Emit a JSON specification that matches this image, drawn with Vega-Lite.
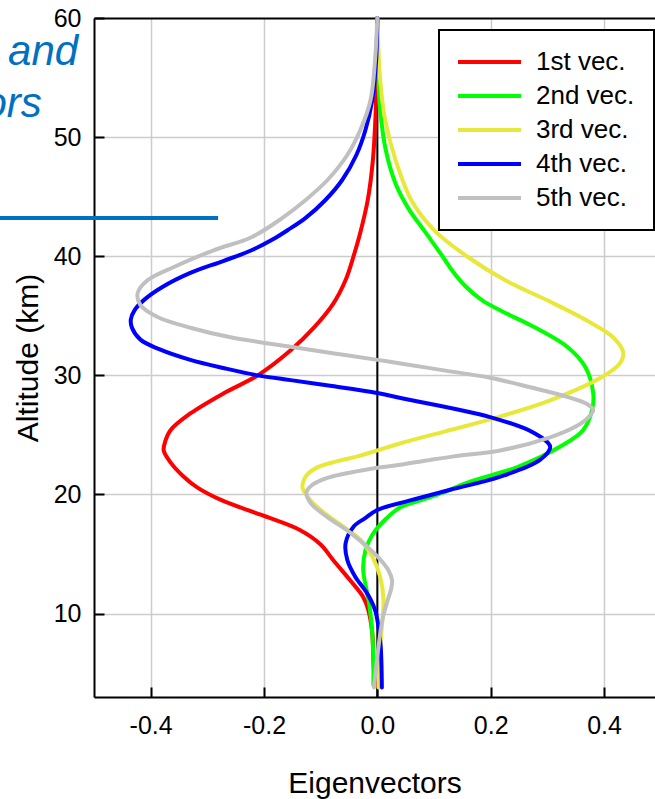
{
  "$schema": "https://vega.github.io/schema/vega-lite/v6.json",
  "width": 561,
  "height": 679,
  "autosize": {"type": "none"},
  "padding": {"left": 94, "top": 18, "right": 0, "bottom": 102},
  "background": "white",
  "config": {
    "view": {"stroke": null},
    "font": "Liberation Sans",
    "axis": {"labelFont": "Liberation Sans", "titleFont": "Liberation Sans", "labelColor": "black", "titleColor": "black", "titleFontWeight": "normal"},
    "legend": {"strokeWidth": 2}
  },
  "datasets": {
    "zero": [{"z": 0}],
    "ann": [
      {"label": "and", "x": -0.528, "alt": 56.05},
      {"label": "ors", "x": -0.592, "alt": 51.69}
    ],
    "hline": [{"x1": -0.666, "x2": -0.281, "alt": 43.21}],
    "vec": [
      {"s": "1st vec.", "alt": 4.0, "v": -0.004},
      {"s": "1st vec.", "alt": 6.1, "v": -0.007},
      {"s": "1st vec.", "alt": 8.4, "v": -0.009},
      {"s": "1st vec.", "alt": 10.3, "v": -0.016},
      {"s": "1st vec.", "alt": 11.4, "v": -0.025},
      {"s": "1st vec.", "alt": 12.8, "v": -0.048},
      {"s": "1st vec.", "alt": 14.5, "v": -0.078},
      {"s": "1st vec.", "alt": 15.8, "v": -0.1},
      {"s": "1st vec.", "alt": 17.0, "v": -0.136},
      {"s": "1st vec.", "alt": 18.3, "v": -0.206},
      {"s": "1st vec.", "alt": 19.5, "v": -0.274},
      {"s": "1st vec.", "alt": 20.6, "v": -0.318},
      {"s": "1st vec.", "alt": 21.6, "v": -0.344},
      {"s": "1st vec.", "alt": 22.7, "v": -0.365},
      {"s": "1st vec.", "alt": 23.7, "v": -0.377},
      {"s": "1st vec.", "alt": 24.5, "v": -0.374},
      {"s": "1st vec.", "alt": 25.4, "v": -0.365},
      {"s": "1st vec.", "alt": 26.8, "v": -0.33},
      {"s": "1st vec.", "alt": 28.5, "v": -0.271},
      {"s": "1st vec.", "alt": 30.0, "v": -0.211},
      {"s": "1st vec.", "alt": 32.1, "v": -0.153},
      {"s": "1st vec.", "alt": 34.0, "v": -0.112},
      {"s": "1st vec.", "alt": 36.0, "v": -0.078},
      {"s": "1st vec.", "alt": 38.0, "v": -0.056},
      {"s": "1st vec.", "alt": 40.0, "v": -0.042},
      {"s": "1st vec.", "alt": 42.0, "v": -0.03},
      {"s": "1st vec.", "alt": 44.7, "v": -0.017},
      {"s": "1st vec.", "alt": 48.0, "v": -0.008},
      {"s": "1st vec.", "alt": 52.0, "v": -0.003},
      {"s": "1st vec.", "alt": 56.0, "v": -0.001},
      {"s": "1st vec.", "alt": 60.0, "v": 0},

      {"s": "2nd vec.", "alt": 4.0, "v": -0.007},
      {"s": "2nd vec.", "alt": 6.0, "v": -0.007},
      {"s": "2nd vec.", "alt": 8.4, "v": -0.009},
      {"s": "2nd vec.", "alt": 10.7, "v": -0.014},
      {"s": "2nd vec.", "alt": 12.0, "v": -0.019},
      {"s": "2nd vec.", "alt": 13.7, "v": -0.025},
      {"s": "2nd vec.", "alt": 15.3, "v": -0.021},
      {"s": "2nd vec.", "alt": 16.6, "v": -0.009},
      {"s": "2nd vec.", "alt": 17.9, "v": 0.014},
      {"s": "2nd vec.", "alt": 18.9, "v": 0.04},
      {"s": "2nd vec.", "alt": 19.5, "v": 0.076},
      {"s": "2nd vec.", "alt": 20.2, "v": 0.118},
      {"s": "2nd vec.", "alt": 21.0, "v": 0.159},
      {"s": "2nd vec.", "alt": 22.3, "v": 0.247},
      {"s": "2nd vec.", "alt": 24.0, "v": 0.322},
      {"s": "2nd vec.", "alt": 25.4, "v": 0.363},
      {"s": "2nd vec.", "alt": 27.1, "v": 0.379},
      {"s": "2nd vec.", "alt": 28.5, "v": 0.381},
      {"s": "2nd vec.", "alt": 30.7, "v": 0.367},
      {"s": "2nd vec.", "alt": 32.4, "v": 0.335},
      {"s": "2nd vec.", "alt": 34.1, "v": 0.275},
      {"s": "2nd vec.", "alt": 35.2, "v": 0.228},
      {"s": "2nd vec.", "alt": 36.3, "v": 0.185},
      {"s": "2nd vec.", "alt": 37.5, "v": 0.155},
      {"s": "2nd vec.", "alt": 38.8, "v": 0.132},
      {"s": "2nd vec.", "alt": 40.0, "v": 0.115},
      {"s": "2nd vec.", "alt": 42.0, "v": 0.085},
      {"s": "2nd vec.", "alt": 44.0, "v": 0.055},
      {"s": "2nd vec.", "alt": 46.0, "v": 0.033},
      {"s": "2nd vec.", "alt": 48.9, "v": 0.015},
      {"s": "2nd vec.", "alt": 52.3, "v": 0.005},
      {"s": "2nd vec.", "alt": 56.0, "v": 0.001},
      {"s": "2nd vec.", "alt": 60.0, "v": 0},

      {"s": "3rd vec.", "alt": 3.8, "v": 0.002},
      {"s": "3rd vec.", "alt": 7.2, "v": 0.005},
      {"s": "3rd vec.", "alt": 9.5, "v": 0.009},
      {"s": "3rd vec.", "alt": 11.1, "v": 0.011},
      {"s": "3rd vec.", "alt": 13.1, "v": 0.005},
      {"s": "3rd vec.", "alt": 14.8, "v": -0.009},
      {"s": "3rd vec.", "alt": 16.2, "v": -0.03},
      {"s": "3rd vec.", "alt": 17.3, "v": -0.06},
      {"s": "3rd vec.", "alt": 18.7, "v": -0.1},
      {"s": "3rd vec.", "alt": 19.8, "v": -0.123},
      {"s": "3rd vec.", "alt": 20.6, "v": -0.132},
      {"s": "3rd vec.", "alt": 21.6, "v": -0.125},
      {"s": "3rd vec.", "alt": 22.3, "v": -0.105},
      {"s": "3rd vec.", "alt": 22.8, "v": -0.07},
      {"s": "3rd vec.", "alt": 23.2, "v": -0.035},
      {"s": "3rd vec.", "alt": 23.7, "v": 0.0},
      {"s": "3rd vec.", "alt": 24.3, "v": 0.041},
      {"s": "3rd vec.", "alt": 25.3, "v": 0.12},
      {"s": "3rd vec.", "alt": 26.3, "v": 0.199},
      {"s": "3rd vec.", "alt": 27.9, "v": 0.305},
      {"s": "3rd vec.", "alt": 29.9, "v": 0.398},
      {"s": "3rd vec.", "alt": 31.0, "v": 0.428},
      {"s": "3rd vec.", "alt": 31.9, "v": 0.434},
      {"s": "3rd vec.", "alt": 33.2, "v": 0.416},
      {"s": "3rd vec.", "alt": 34.6, "v": 0.37},
      {"s": "3rd vec.", "alt": 36.3, "v": 0.3},
      {"s": "3rd vec.", "alt": 38.0, "v": 0.225},
      {"s": "3rd vec.", "alt": 40.0, "v": 0.158},
      {"s": "3rd vec.", "alt": 42.2, "v": 0.1},
      {"s": "3rd vec.", "alt": 44.7, "v": 0.06},
      {"s": "3rd vec.", "alt": 48.1, "v": 0.032},
      {"s": "3rd vec.", "alt": 51.4, "v": 0.014},
      {"s": "3rd vec.", "alt": 54.8, "v": 0.005},
      {"s": "3rd vec.", "alt": 60.0, "v": 0},

      {"s": "4th vec.", "alt": 3.8, "v": 0.008},
      {"s": "4th vec.", "alt": 7.2, "v": 0.006},
      {"s": "4th vec.", "alt": 8.9, "v": 0.002},
      {"s": "4th vec.", "alt": 10.3, "v": -0.004},
      {"s": "4th vec.", "alt": 11.7, "v": -0.018},
      {"s": "4th vec.", "alt": 13.1, "v": -0.039},
      {"s": "4th vec.", "alt": 14.5, "v": -0.053},
      {"s": "4th vec.", "alt": 15.9, "v": -0.056},
      {"s": "4th vec.", "alt": 17.3, "v": -0.042},
      {"s": "4th vec.", "alt": 18.0, "v": -0.022},
      {"s": "4th vec.", "alt": 18.7, "v": 0.0},
      {"s": "4th vec.", "alt": 19.5, "v": 0.058},
      {"s": "4th vec.", "alt": 20.4, "v": 0.129},
      {"s": "4th vec.", "alt": 21.5, "v": 0.217},
      {"s": "4th vec.", "alt": 22.9, "v": 0.287},
      {"s": "4th vec.", "alt": 24.0, "v": 0.305},
      {"s": "4th vec.", "alt": 25.2, "v": 0.275},
      {"s": "4th vec.", "alt": 26.5, "v": 0.199},
      {"s": "4th vec.", "alt": 28.1, "v": 0.041},
      {"s": "4th vec.", "alt": 28.6, "v": -0.01},
      {"s": "4th vec.", "alt": 29.1, "v": -0.08},
      {"s": "4th vec.", "alt": 29.6, "v": -0.153},
      {"s": "4th vec.", "alt": 30.0, "v": -0.211},
      {"s": "4th vec.", "alt": 30.6, "v": -0.27},
      {"s": "4th vec.", "alt": 31.3, "v": -0.33},
      {"s": "4th vec.", "alt": 32.2, "v": -0.385},
      {"s": "4th vec.", "alt": 33.0, "v": -0.418},
      {"s": "4th vec.", "alt": 34.0, "v": -0.433},
      {"s": "4th vec.", "alt": 34.7, "v": -0.435},
      {"s": "4th vec.", "alt": 35.5, "v": -0.428},
      {"s": "4th vec.", "alt": 36.4, "v": -0.41},
      {"s": "4th vec.", "alt": 37.4, "v": -0.38},
      {"s": "4th vec.", "alt": 38.6, "v": -0.33},
      {"s": "4th vec.", "alt": 39.6, "v": -0.272},
      {"s": "4th vec.", "alt": 40.5, "v": -0.222},
      {"s": "4th vec.", "alt": 41.4, "v": -0.185},
      {"s": "4th vec.", "alt": 42.2, "v": -0.158},
      {"s": "4th vec.", "alt": 43.2, "v": -0.127},
      {"s": "4th vec.", "alt": 44.7, "v": -0.092},
      {"s": "4th vec.", "alt": 46.4, "v": -0.062},
      {"s": "4th vec.", "alt": 48.5, "v": -0.037},
      {"s": "4th vec.", "alt": 50.6, "v": -0.021},
      {"s": "4th vec.", "alt": 53.1, "v": -0.009},
      {"s": "4th vec.", "alt": 56.5, "v": -0.002},
      {"s": "4th vec.", "alt": 60.0, "v": 0},

      {"s": "5th vec.", "alt": 3.8, "v": -0.006},
      {"s": "5th vec.", "alt": 7.2, "v": 0.002},
      {"s": "5th vec.", "alt": 9.5, "v": 0.009},
      {"s": "5th vec.", "alt": 11.1, "v": 0.018},
      {"s": "5th vec.", "alt": 12.0, "v": 0.024},
      {"s": "5th vec.", "alt": 12.8, "v": 0.026},
      {"s": "5th vec.", "alt": 13.6, "v": 0.02},
      {"s": "5th vec.", "alt": 14.8, "v": 0.0},
      {"s": "5th vec.", "alt": 16.8, "v": -0.048},
      {"s": "5th vec.", "alt": 18.1, "v": -0.088},
      {"s": "5th vec.", "alt": 19.3, "v": -0.118},
      {"s": "5th vec.", "alt": 20.2, "v": -0.125},
      {"s": "5th vec.", "alt": 20.8, "v": -0.115},
      {"s": "5th vec.", "alt": 21.4, "v": -0.088},
      {"s": "5th vec.", "alt": 22.1, "v": -0.018},
      {"s": "5th vec.", "alt": 22.5, "v": 0.041},
      {"s": "5th vec.", "alt": 22.9, "v": 0.093},
      {"s": "5th vec.", "alt": 23.2, "v": 0.135},
      {"s": "5th vec.", "alt": 23.7, "v": 0.217},
      {"s": "5th vec.", "alt": 24.8, "v": 0.305},
      {"s": "5th vec.", "alt": 25.7, "v": 0.35},
      {"s": "5th vec.", "alt": 26.5, "v": 0.373},
      {"s": "5th vec.", "alt": 27.1, "v": 0.381},
      {"s": "5th vec.", "alt": 27.6, "v": 0.37},
      {"s": "5th vec.", "alt": 28.2, "v": 0.335},
      {"s": "5th vec.", "alt": 29.0, "v": 0.27},
      {"s": "5th vec.", "alt": 29.8, "v": 0.199},
      {"s": "5th vec.", "alt": 30.4, "v": 0.12},
      {"s": "5th vec.", "alt": 31.0, "v": 0.041},
      {"s": "5th vec.", "alt": 31.3, "v": 0.0},
      {"s": "5th vec.", "alt": 31.8, "v": -0.07},
      {"s": "5th vec.", "alt": 32.4, "v": -0.153},
      {"s": "5th vec.", "alt": 33.2, "v": -0.259},
      {"s": "5th vec.", "alt": 34.0, "v": -0.33},
      {"s": "5th vec.", "alt": 34.9, "v": -0.388},
      {"s": "5th vec.", "alt": 35.9, "v": -0.418},
      {"s": "5th vec.", "alt": 36.9, "v": -0.423},
      {"s": "5th vec.", "alt": 38.0, "v": -0.405},
      {"s": "5th vec.", "alt": 39.1, "v": -0.359},
      {"s": "5th vec.", "alt": 40.5, "v": -0.289},
      {"s": "5th vec.", "alt": 41.6, "v": -0.222},
      {"s": "5th vec.", "alt": 43.2, "v": -0.168},
      {"s": "5th vec.", "alt": 44.7, "v": -0.127},
      {"s": "5th vec.", "alt": 46.4, "v": -0.088},
      {"s": "5th vec.", "alt": 48.5, "v": -0.053},
      {"s": "5th vec.", "alt": 50.6, "v": -0.03},
      {"s": "5th vec.", "alt": 53.1, "v": -0.012},
      {"s": "5th vec.", "alt": 56.5, "v": -0.004},
      {"s": "5th vec.", "alt": 60.0, "v": 0}
    ]
  },
  "layer": [
    {
      "data": {"name": "zero"},
      "mark": {"type": "rule", "color": "black", "strokeWidth": 2},
      "encoding": {
        "x": {"field": "z", "type": "quantitative", "scale": {"domain": [-0.5, 0.49], "nice": false, "zero": false}}
      }
    },
    {
      "data": {"name": "vec"},
      "mark": {"type": "line", "strokeWidth": 4, "interpolate": "catmull-rom", "strokeCap": "round", "strokeJoin": "round"},
      "encoding": {
        "x": {
          "field": "v", "type": "quantitative",
          "scale": {"domain": [-0.5, 0.49], "nice": false, "zero": false},
          "axis": {
            "orient": "bottom", "values": [-0.4, -0.2, 0, 0.2, 0.4],
            "labelExpr": "(datum.value < 0 ? '-' : '') + format(abs(datum.value), '.1f')",
            "ticks": true, "tickSize": -10, "tickWidth": 2, "tickColor": "black",
            "grid": true, "gridColor": "#cccccc", "gridWidth": 1.5,
            "domain": true, "domainColor": "black", "domainWidth": 2,
            "labelFontSize": 25, "labelPadding": 26, "labelFlush": false, "labelOverlap": false,
            "title": "Eigenvectors", "titleFontSize": 30, "titlePadding": 30
          }
        },
        "y": {
          "field": "alt", "type": "quantitative",
          "scale": {"domain": [3, 60], "nice": false, "zero": false},
          "axis": {
            "orient": "left", "values": [10, 20, 30, 40, 50, 60],
            "ticks": true, "tickSize": -10, "tickWidth": 2, "tickColor": "black",
            "grid": true,
            "gridColor": {"condition": {"test": "datum.value >= 60", "value": "black"}, "value": "#cccccc"},
            "gridWidth": {"condition": {"test": "datum.value >= 60", "value": 2}, "value": 1.5},
            "domain": true, "domainColor": "black", "domainWidth": 2,
            "labelFontSize": 25, "labelPadding": 23, "labelOverlap": false,
            "title": "Altitude (km)", "titleFontSize": 30, "titlePadding": 10
          }
        },
        "order": {"field": "alt", "type": "quantitative"},
        "color": {
          "field": "s", "type": "nominal",
          "scale": {
            "domain": ["1st vec.", "2nd vec.", "3rd vec.", "4th vec.", "5th vec."],
            "range": ["#ff0000", "#00ff00", "#e8e83a", "#0000ff", "#c0c0c0"]
          },
          "legend": {
            "orient": "none", "legendX": 345, "legendY": 12, "title": null,
            "fillColor": "white", "strokeColor": "black", "padding": 19,
            "labelFontSize": 26, "labelColor": "black", "labelFont": "Liberation Sans",
            "symbolType": "M-3,0L3,0", "symbolSize": 441, "symbolStrokeWidth": 4,
            "symbolOffset": 18.5, "labelOffset": 33.5, "rowPadding": 8, "labelLimit": 300
          }
        }
      }
    },
    {
      "data": {"name": "ann"},
      "mark": {"type": "text", "align": "right", "baseline": "alphabetic", "fontSize": 42, "fontStyle": "italic", "font": "Liberation Sans", "color": "#0070c0"},
      "encoding": {
        "x": {"field": "x", "type": "quantitative"},
        "y": {"field": "alt", "type": "quantitative"},
        "text": {"field": "label"}
      }
    },
    {
      "data": {"name": "hline"},
      "mark": {"type": "rule", "color": "#0070c0", "strokeWidth": 4},
      "encoding": {
        "x": {"field": "x1", "type": "quantitative"},
        "x2": {"field": "x2"},
        "y": {"field": "alt", "type": "quantitative"}
      }
    }
  ]
}
